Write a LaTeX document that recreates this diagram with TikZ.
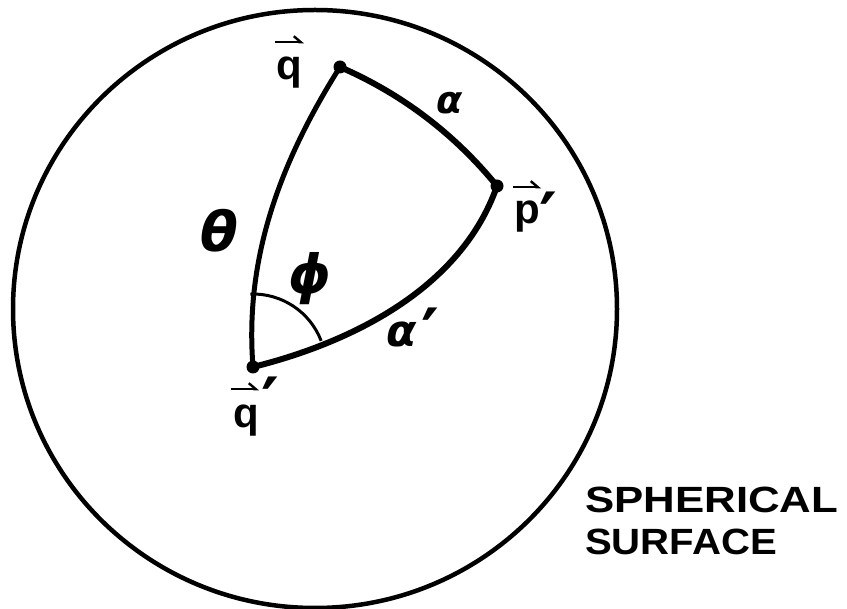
\documentclass[tikz,border=0pt]{standalone}
\usepackage{fontspec}
\usepackage{graphicx}
\setmainfont{Liberation Sans}
\newfontfamily\grk{DejaVu Sans}
\usetikzlibrary{arrows.meta}
\tikzset{
  sidearc/.style={line width=6pt, line cap=round, line join=round},
  dotpt/.style={circle, fill, inner sep=0pt, minimum size=13pt},
  vlab/.style={inner sep=0pt, font=\bfseries\fontsize{42}{44}\selectfont},
  primelab/.style={inner sep=0pt, anchor=base, font=\grk\bfseries\fontsize{68}{70}\selectfont},
  glab/.style={inner sep=0pt},
  vecarr/.style={line width=2.4pt, -{Straight Barb[left,length=7pt,width=12pt]}},
  caption/.style={inner sep=0pt, anchor=base west, font=\bfseries\fontsize{36.5}{40}\selectfont},
}
\begin{document}
\begin{tikzpicture}[x=1pt,y=-1pt]
\path[use as bounding box] (0,0) rectangle (847,609);
% sphere outline
\draw[line width=4.5pt] (315,309) ellipse [x radius=302, y radius=299];
% vertices
\node[dotpt] (q) at (340,67) {};
\node[dotpt] (p) at (497,186) {};
\node[dotpt] (qq) at (253,367) {};
% sides
\draw[sidearc, line width=5pt] (q.center) .. controls (275,170) and (245,265) .. (qq.center);
\draw[sidearc] (q.center) .. controls (402,94) and (454,133.5) .. (p.center);
\draw[sidearc] (p.center) .. controls (460.7,290) and (348.8,343.2) .. (qq.center);
% angle phi
\draw[line width=3pt] (qq.center) ++(-21:73) arc[start angle=-21, end angle=-92, radius=73];
% vector labels
\node[vlab, anchor=base] (ql) at (289,80) {q};
\draw[vecarr] ([xshift=-1pt,yshift=15pt]ql.north west) -- ([xshift=2pt,yshift=15pt]ql.north east);
\node[vlab, anchor=base] (pl) at (527,224) {p};
\draw[vecarr] ([xshift=-1pt,yshift=14pt]pl.north west) -- ([xshift=1pt,yshift=14pt]pl.north east);
\node[primelab] (plp) at (548,242) {′};
\node[vlab, anchor=base] (qql) at (246,428) {q};
\draw[vecarr] ([xshift=-2pt,yshift=16pt]qql.north west) -- ([xshift=0pt,yshift=16pt]qql.north east);
\node[primelab] (qqlp) at (270,427) {′};
% greek labels
\node[glab, anchor=base west, font=\grk\bfseries\itshape\fontsize{38}{40}\selectfont] (al) at (436,114) {α};
\node[glab, anchor=base west, font=\grk\bfseries\itshape\fontsize{44}{48}\selectfont] (alp) at (386,347) {α};
\node[primelab] (alpp) at (430,358) {′};
\node[glab, font=\grk\bfseries\itshape\fontsize{55}{58}\selectfont] (th) at (219,231) {θ};
\node[glab, font=\grk\bfseries\itshape\fontsize{54}{56}\selectfont] (ph) at (310,279) {ϕ};
% caption
\node[caption] (s1) at (585,513) {\scalebox{1.2}[1]{SPHERICAL}};
\node[caption] (s2) at (585,555) {\scalebox{1.1}[1]{SURFACE}};
\end{tikzpicture}
\end{document}
